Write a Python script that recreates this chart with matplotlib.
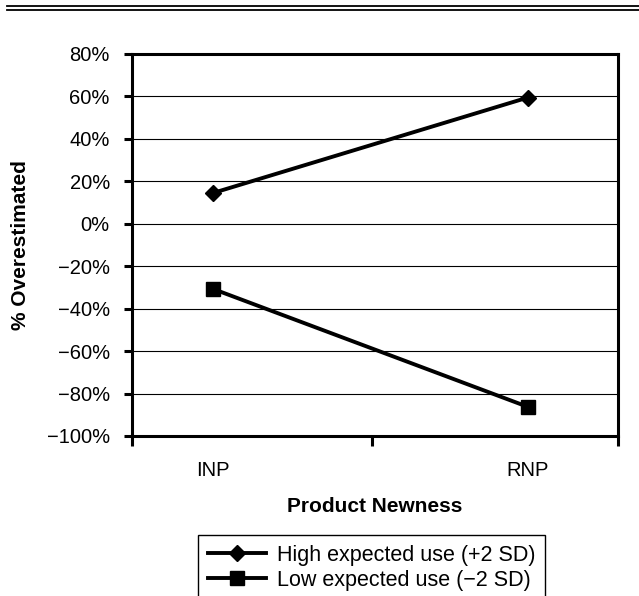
import matplotlib
matplotlib.use("Agg")
import matplotlib.pyplot as plt
from matplotlib.lines import Line2D
from matplotlib.ticker import FixedLocator, FuncFormatter

# data
categories = ["INP", "RNP"]
high_use = [14.5, 59.5]     # High expected use (+2 SD), %
low_use = [-30.7, -86.3]    # Low expected use (-2 SD), %
y_ticks = [80, 60, 40, 20, 0, -20, -40, -60, -80, -100]

plt.rcParams['font.family'] = ['Liberation Sans', 'DejaVu Sans']
plt.rcParams['font.size'] = 14.0

fig = plt.figure(figsize=(6.39, 5.96), dpi=100)
ax = fig.add_axes([0.2066, 0.2685, 0.7606, 0.6409])

x = list(range(len(categories)))
ax.plot(x, high_use, color='black', lw=2.8, marker='D', ms=8.2,
        label='High expected use (+2 SD)', zorder=3, clip_on=False)
ax.plot(x, low_use, color='black', lw=2.8, marker='s', ms=10.5,
        label='Low expected use (\u22122 SD)', zorder=3, clip_on=False)

ax.set_ylim(-100, 80)
ax.set_xlim(-0.257, 1.286)

# grid lines
for v in y_ticks[1:-1]:
    ax.axhline(v, color='black', lw=0.8, zorder=1)

ax.yaxis.set_major_locator(FixedLocator(y_ticks))
ax.yaxis.set_major_formatter(FuncFormatter(
    lambda v, p: ('\u2212' if v < 0 else '') + '%d%%' % abs(v)))
ax.tick_params(axis='y', direction='out', length=6, width=2.2, pad=10, labelsize=14.5)

# category ticks at the borders, labels under the data points
ax.xaxis.set_major_locator(FixedLocator([-0.257, 0.505, 1.286]))
ax.xaxis.set_major_formatter(FuncFormatter(lambda v, p: ''))
ax.set_xticks(x, minor=True)
ax.set_xticklabels(categories, minor=True)
ax.tick_params(axis='x', which='major', direction='out', length=7, width=2.2)
ax.tick_params(axis='x', which='minor', length=0, pad=18, labelsize=14.5)

for s in ax.spines.values():
    s.set_linewidth(2.2)

ax.set_ylabel('% Overestimated', fontweight='bold', fontsize=15, labelpad=12)
ax.set_xlabel('Product Newness', fontweight='bold', fontsize=15, labelpad=12)

leg = ax.legend(loc='upper left', bbox_to_anchor=(198 / 639, 1 - 535 / 596),
                bbox_transform=fig.transFigure, borderaxespad=0, fancybox=False,
                framealpha=1, edgecolor='black', fontsize=15.5, handlelength=2.7,
                handletextpad=0.5, labelspacing=0.2, borderpad=0.45)
leg.get_frame().set_linewidth(1.0)

# double rule at the top of the page
fig.add_artist(Line2D([7 / 639, 1], [1 - 5.8 / 596] * 2, color='black', lw=1.3))
fig.add_artist(Line2D([7 / 639, 1], [1 - 9.8 / 596] * 2, color='black', lw=1.3))

fig.savefig('out.png', dpi=100)
